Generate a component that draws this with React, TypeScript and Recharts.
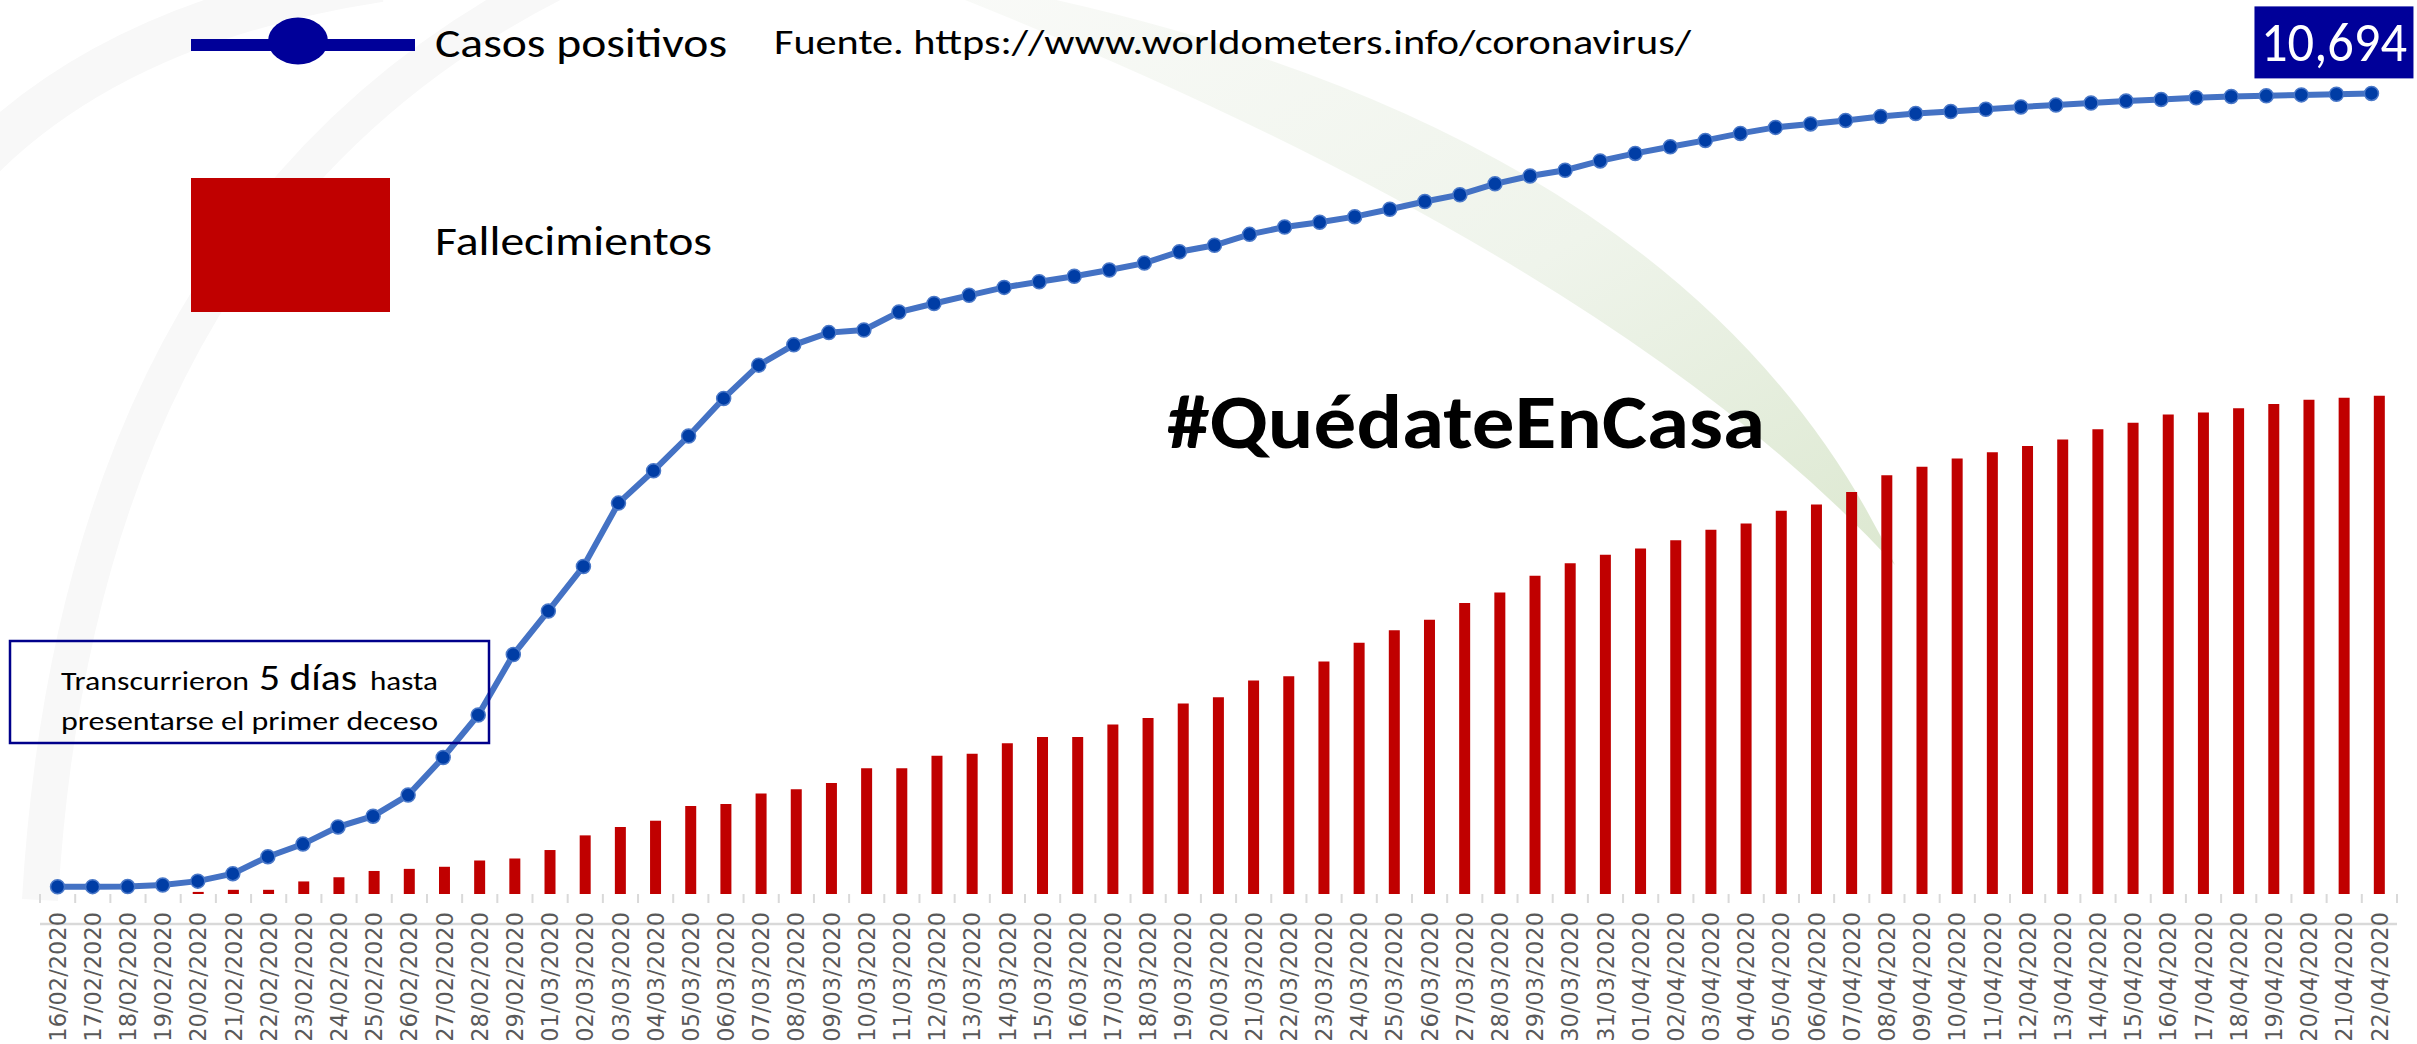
import React from "react";
import { ComposedChart, Bar, Line, XAxis, YAxis, LabelList } from "recharts";

const fechas: string[] = [
  "16/02/2020","17/02/2020","18/02/2020","19/02/2020","20/02/2020","21/02/2020","22/02/2020",
  "23/02/2020","24/02/2020","25/02/2020","26/02/2020","27/02/2020","28/02/2020","29/02/2020",
  "01/03/2020","02/03/2020","03/03/2020","04/03/2020","05/03/2020","06/03/2020","07/03/2020",
  "08/03/2020","09/03/2020","10/03/2020","11/03/2020","12/03/2020","13/03/2020","14/03/2020",
  "15/03/2020","16/03/2020","17/03/2020","18/03/2020","19/03/2020","20/03/2020","21/03/2020",
  "22/03/2020","23/03/2020","24/03/2020","25/03/2020","26/03/2020","27/03/2020","28/03/2020",
  "29/03/2020","30/03/2020","31/03/2020","01/04/2020","02/04/2020","03/04/2020","04/04/2020",
  "05/04/2020","06/04/2020","07/04/2020","08/04/2020","09/04/2020","10/04/2020","11/04/2020",
  "12/04/2020","13/04/2020","14/04/2020","15/04/2020","16/04/2020","17/04/2020","18/04/2020",
  "19/04/2020","20/04/2020","21/04/2020","22/04/2020",
];

const casosPositivos: number[] = [
  29, 30, 31, 51, 104, 204, 433, 602, 833, 977, 1261, 1766, 2337, 3150,
  3736, 4335, 5186, 5621, 6088, 6593, 7041, 7314, 7478, 7513, 7755, 7869, 7979, 8086,
  8162, 8236, 8320, 8413, 8565, 8652, 8799, 8897, 8961, 9037, 9137, 9241, 9332, 9478,
  9583, 9661, 9786,
  9887, 9976, 10062, 10156, 10237, 10284, 10331, 10384, 10423, 10450, 10480, 10512,
  10537, 10564, 10591, 10613, 10635, 10653, 10661, 10674, 10683, 10694,
];

const fallecimientos: number[] = [
  0, 0, 0, 0, 1, 2, 2, 6, 8, 11, 12, 13, 16, 17,
  21, 28, 32, 35, 42, 43, 48, 50, 53, 60, 60, 66, 67, 72, 75, 75, 81, 84, 91, 94,
  102, 104, 111, 120, 126, 131, 139, 144, 152, 158, 162,
  165, 169, 174, 177, 183, 186, 192, 200, 204, 208, 211, 214, 217, 222, 225, 229,
  230, 232, 234, 236, 237, 238,
];

const serieCasos = "Casos positivos";
const serieFallecidos = "Fallecimientos";
const fuente = "Fuente. https://www.worldometers.info/coronavirus/";
const hashtag = "#QuédateEnCasa";

const data = fechas.map((f, i) => ({
  fecha: f,
  casos: casosPositivos[i],
  fallecidos: fallecimientos[i],
}));

const W = 2417;
const H = 1044;
const X_AXIS_H = 150;
const MARGIN = { top: 60, right: 20, left: 40, bottom: 0 };
const PLOT_W = W - MARGIN.left - MARGIN.right;
const AXIS_Y = H - MARGIN.bottom - X_AXIS_H;
const BAND = PLOT_W / fechas.length;
const LAST = fechas.length - 1;
const LABEL_FONT = "Carlito, Lato, 'Open Sans', sans-serif";

const AxisTick = (props: any) => {
  const { x, payload, index } = props;
  const ty = AXIS_Y + 18;
  return (
    <g>
      <line x1={x - BAND / 2} x2={x - BAND / 2} y1={AXIS_Y} y2={AXIS_Y + 9} stroke="#d9d9d9" strokeWidth={2} />
      {index === LAST && (
        <line x1={x + BAND / 2} x2={x + BAND / 2} y1={AXIS_Y} y2={AXIS_Y + 9} stroke="#d9d9d9" strokeWidth={2} />
      )}
      <text
        x={x}
        y={ty}
        dy="0.36em"
        textAnchor="end"
        transform={`rotate(-90 ${x} ${ty})`}
        fontFamily="'DejaVu Sans', Verdana, sans-serif"
        fontSize={22.5}
        fill="#595959"
      >
        {payload.value}
      </text>
    </g>
  );
};

const CasosLabel = (props: any) => {
  const { x, y, value, index } = props;
  if (index !== LAST) return null;
  const txt = Number(value).toLocaleString("en-US");
  return (
    <g>
      <rect x={x - 117} y={y - 87} width={159} height={72} fill="#000099" />
      <text
        x={x - 37.5}
        y={y - 32}
        textAnchor="middle"
        fontFamily={LABEL_FONT}
        fontSize={56}
        fill="#ffffff"
        textLength={146}
        lengthAdjust="spacingAndGlyphs"
      >
        {txt}
      </text>
    </g>
  );
};

const FallecidosLabel = (props: any) => {
  const { x, y, width, value, index } = props;
  if (index !== LAST) return null;
  const cx = x + width / 2;
  return (
    <g>
      <polyline
        points={`${cx - 23},${y - 43} ${cx - 13},${y - 43} ${cx},${y - 1}`}
        fill="none"
        stroke="#a6a6a6"
        strokeWidth={1.5}
      />
      <rect x={cx - 121} y={y - 75} width={98} height={63} fill="#C00000" />
      <text
        x={cx - 72}
        y={y - 24}
        textAnchor="middle"
        fontFamily={LABEL_FONT}
        fontSize={56}
        fill="#ffffff"
        textLength={79}
        lengthAdjust="spacingAndGlyphs"
      >
        {value}
      </text>
    </g>
  );
};

const Background = () => (
  <svg width={W} height={H} style={{ position: "absolute", left: 0, top: 0 }}>
    <defs>
      <linearGradient id="sw" x1="0" y1="0" x2="1" y2="1">
        <stop offset="0%" stopColor="#f9faf8" />
        <stop offset="55%" stopColor="#eff4eb" />
        <stop offset="100%" stopColor="#dce8d0" />
      </linearGradient>
    </defs>
    <path d="M 1010,-10 Q 1690,130 1895,565 Q 1610,255 940,-10 Z" fill="url(#sw)" />
    <path d="M 40,900 Q 80,220 560,-20" fill="none" stroke="#f8f8f8" strokeWidth={36} />
    <path d="M -20,160 Q 120,20 380,-20" fill="none" stroke="#f8f8f8" strokeWidth={44} />
  </svg>
);

const Overlay = () => (
  <svg width={W} height={H} style={{ position: "absolute", left: 0, top: 0, pointerEvents: "none" }}>
    <line x1={191} x2={415} y1={45} y2={45} stroke="#000099" strokeWidth={12} />
    <ellipse cx={298} cy={41} rx={30} ry={23.5} fill="#000099" />
    <text x={435} y={57} fontFamily={LABEL_FONT} fontSize={40} fill="#000" textLength={292} lengthAdjust="spacingAndGlyphs">
      {serieCasos}
    </text>
    <text x={774} y={54} fontFamily={LABEL_FONT} fontSize={35} fill="#000" textLength={917} lengthAdjust="spacingAndGlyphs">
      {fuente}
    </text>
    <rect x={191} y={178} width={199} height={134} fill="#C00000" />
    <text x={435} y={255} fontFamily={LABEL_FONT} fontSize={40} fill="#000" textLength={277} lengthAdjust="spacingAndGlyphs">
      {serieFallecidos}
    </text>
    <text x={1167} y={448} fontFamily={LABEL_FONT} fontWeight={700} fontSize={76} fill="#000" textLength={598} lengthAdjust="spacingAndGlyphs">
      {hashtag}
    </text>
    <rect x={10} y={641} width={479} height={102} fill="none" stroke="#00008B" strokeWidth={2.5} />
    <text x={61} y={690} fontFamily={LABEL_FONT} fontSize={27} fill="#000" textLength={188} lengthAdjust="spacingAndGlyphs">
      Transcurrieron
    </text>
    <text x={259} y={690} fontFamily={LABEL_FONT} fontSize={37} fill="#000" textLength={98} lengthAdjust="spacingAndGlyphs">
      5 días
    </text>
    <text x={370} y={690} fontFamily={LABEL_FONT} fontSize={27} fill="#000" textLength={68} lengthAdjust="spacingAndGlyphs">
      hasta
    </text>
    <text x={61} y={730} fontFamily={LABEL_FONT} fontSize={27} fill="#000" textLength={377} lengthAdjust="spacingAndGlyphs">
      presentarse el primer deceso
    </text>
  </svg>
);

export default function App() {
  return (
    <div style={{ position: "absolute", left: 0, top: 0, width: W, height: H, background: "#ffffff", overflow: "hidden" }}>
      <Background />
      <div style={{ position: "absolute", left: 0, top: 0 }}>
        <ComposedChart width={W} height={H} data={data} margin={MARGIN}>
          <XAxis
            xAxisId="main"
            dataKey="fecha"
            height={X_AXIS_H}
            interval={0}
            tickLine={false}
            axisLine={{ stroke: "#d9d9d9", strokeWidth: 2.5 }}
            tick={<AxisTick />}
          />
          <XAxis xAxisId="line" dataKey="fecha" hide padding={{ left: 0, right: 8 }} />
          <YAxis yAxisId="d" hide domain={[0, 398.3]} />
          <YAxis yAxisId="c" hide orientation="right" domain={[-69, 11143]} />
          <Bar
            xAxisId="main"
            yAxisId="d"
            dataKey="fallecidos"
            name={serieFallecidos}
            fill="#C00000"
            barSize={11}
            isAnimationActive={false}
          >
            <LabelList dataKey="fallecidos" content={<FallecidosLabel />} />
          </Bar>
          <Line
            xAxisId="line"
            yAxisId="c"
            dataKey="casos"
            name={serieCasos}
            type="linear"
            stroke="#4472C4"
            strokeWidth={6}
            dot={{ r: 7, fill: "#003DA5", stroke: "#4A78C8", strokeWidth: 1.5 }}
            isAnimationActive={false}
          >
            <LabelList dataKey="casos" content={<CasosLabel />} />
          </Line>
        </ComposedChart>
      </div>
      <Overlay />
    </div>
  );
}
